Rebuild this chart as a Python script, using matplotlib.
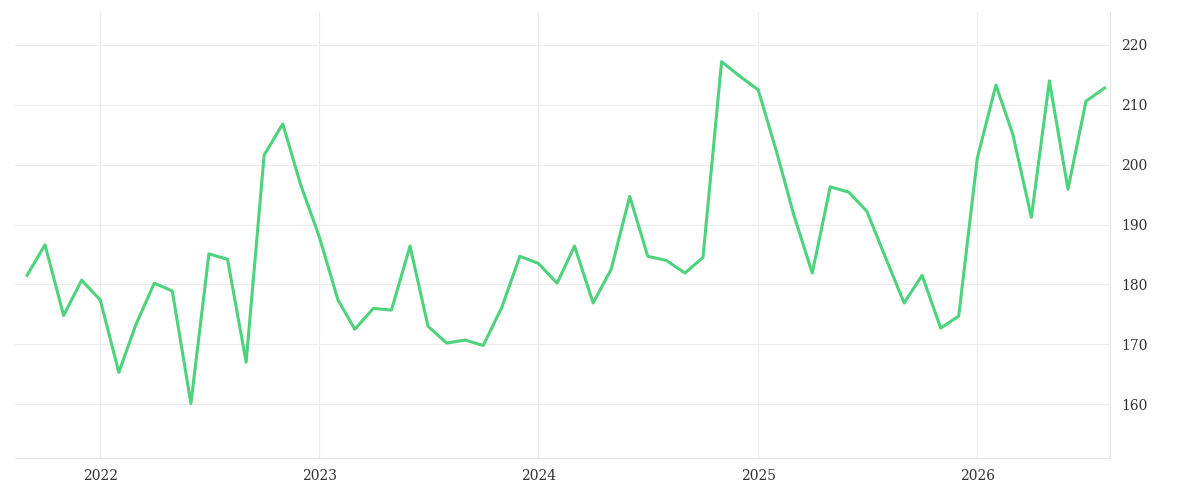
import pandas as pd
import matplotlib.pyplot as plt
import matplotlib.dates as mdates

# Monthly values, Sep 2021 .. Aug 2026
months = pd.date_range('2021-09-01', '2026-08-01', freq='MS')
values = [181.5, 186.6, 174.8, 180.7, 177.4, 165.3, 173.2, 180.2, 178.9, 160.1,
          185.1, 184.2, 167.0, 201.6, 206.8, 196.6, 187.9, 177.4, 172.5, 176.0,
          175.7, 186.4, 173.0, 170.2, 170.7, 169.8, 176.2, 184.7, 183.5, 180.2,
          186.4, 176.9, 182.5, 194.7, 184.7, 184.0, 181.9, 184.5, 217.2, 214.8,
          212.5, 202.0, 191.7, 181.9, 196.3, 195.4, 192.2, 184.5, 176.9, 181.5,
          172.7, 174.7, 201.1, 213.3, 205.1, 191.2, 214.0, 195.9, 210.6, 212.8]
y_ticks = [160, 170, 180, 190, 200, 210, 220]

fig = plt.figure(figsize=(12, 5), dpi=100)
ax = fig.add_axes([0.0125, 0.084, 0.9125, 0.892])
ax.plot(months, values, color='#4cd37b', lw=2.2)

ax.set_ylim(151, 225.5)
ax.set_xlim(pd.Timestamp('2021-08-12'), pd.Timestamp('2026-08-10'))
ax.set_yticks(y_ticks)
ax.yaxis.tick_right()
ax.xaxis.set_major_locator(mdates.YearLocator())
ax.xaxis.set_major_formatter(mdates.DateFormatter('%Y'))
ax.grid(color='#ececec', lw=0.8)
for s in ['top', 'left']:
    ax.spines[s].set_visible(False)
for s in ['bottom', 'right']:
    ax.spines[s].set_color('#e6e6e6')
ax.tick_params(length=0, labelsize=10, colors='#333333', pad=8)
for lab in ax.get_xticklabels() + ax.get_yticklabels():
    lab.set_family('DejaVu Serif')

fig.savefig('out.png')
